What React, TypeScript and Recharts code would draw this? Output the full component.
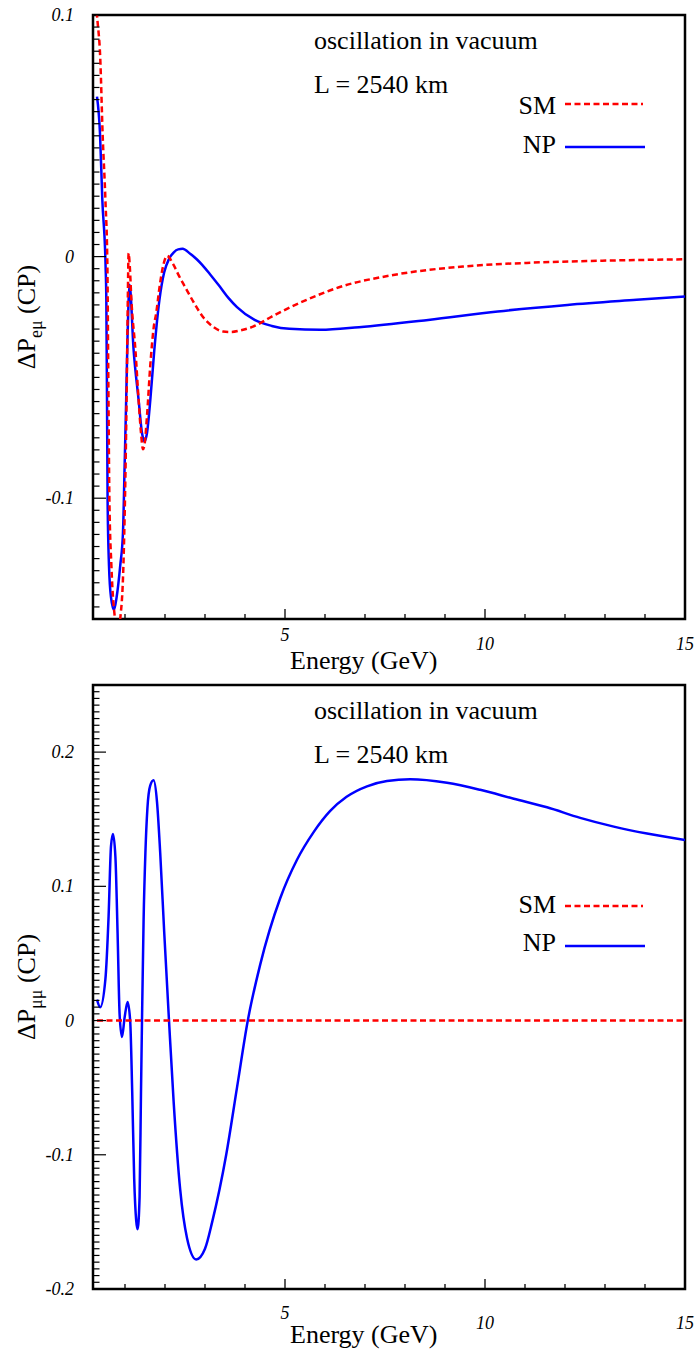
import React from "react";
import { LineChart, Line, XAxis, YAxis, ReferenceArea } from "recharts";

const FONT = '"Liberation Serif", "Times New Roman", Times, serif';

// ---- top panel: ΔP_eμ (CP) ----
const emuEnergyNP = [
  0.3, 0.375, 0.433, 0.515, 0.533, 0.55, 0.565, 0.6, 0.65, 0.725, 0.79, 0.88,
  0.95, 0.99, 1.03, 1.065, 1.09, 1.115, 1.215, 1.34, 1.425, 1.49, 1.55, 1.633,
  1.733, 1.86, 1.98, 2.1, 2.22, 2.33, 2.44, 2.63, 2.8, 2.935, 3.15, 3.37, 3.59,
  3.8, 4.24, 4.67, 5.11, 5.89, 6.85, 8.58, 10.32, 12.06, 13.79, 15.0,
];
const emuNP = [
  0.0662, 0.051, 0.0235, -0.0041, -0.0179, -0.0593, -0.1007, -0.128, -0.141,
  -0.1462, -0.141, -0.128, -0.114, -0.087, -0.059, -0.032, -0.018, -0.0117,
  -0.0386, -0.0593, -0.073, -0.0765, -0.073, -0.0593, -0.0386, -0.018, -0.0065,
  -0.001, 0.0018, 0.003, 0.0032, 0.0012, -0.0012, -0.0035, -0.0078, -0.0124,
  -0.0172, -0.0209, -0.0262, -0.0287, -0.0299, -0.0303, -0.0292, -0.0262,
  -0.0227, -0.02, -0.0179, -0.0165,
];
const emuEnergySM = [
  0.2, 0.3, 0.383, 0.44, 0.51, 0.56, 0.58, 0.61, 0.66, 0.75, 0.81, 0.88, 0.96,
  1.0, 1.04, 1.07, 1.09, 1.12, 1.16, 1.26, 1.34, 1.4, 1.45, 1.49, 1.55, 1.63,
  1.72, 1.78, 1.865, 1.95, 2.05, 2.2, 2.35, 2.5, 2.72, 2.95, 3.2, 3.45, 3.65,
  3.9, 4.2, 4.67, 5.54, 6.41, 7.71, 9.45, 11.19, 12.93, 15.0,
];
const emuSM = [
  0.125, 0.1, 0.0814, 0.051, 0.0235, -0.0041, -0.044, -0.1007, -0.128, -0.15,
  -0.156, -0.15, -0.128, -0.1, -0.059, -0.018, 0.0014, -0.0041, -0.018, -0.0386,
  -0.0593, -0.073, -0.0797, -0.0776, -0.066, -0.0455, -0.029, -0.0234, -0.0124,
  -0.0041, 0.0003, -0.003, -0.008, -0.0125, -0.019, -0.025, -0.029, -0.031,
  -0.0312, -0.0305, -0.029, -0.0248, -0.0179, -0.0124, -0.0076, -0.0041,
  -0.0025, -0.0017, -0.0011,
];

// ---- bottom panel: ΔP_μμ (CP) ----
const mumuEnergyNP = [
  0.3, 0.38, 0.51, 0.59, 0.65, 0.7, 0.76, 0.815, 0.865, 0.925, 0.99, 1.065,
  1.13, 1.18, 1.23, 1.28, 1.315, 1.365, 1.4, 1.425, 1.465, 1.51, 1.56, 1.63,
  1.715, 1.8, 1.88, 1.98, 2.1, 2.215, 2.38, 2.55, 2.78, 3.0, 3.18, 3.53, 3.8,
  4.07, 4.38, 4.88, 5.3, 5.72, 6.13, 6.54, 7.05, 7.55, 8.13, 9.05, 9.88, 10.72,
  11.55, 12.38, 13.22, 14.05, 15.0,
];
const mumuNP = [
  0.0156, 0.0099, 0.0308, 0.0778, 0.13, 0.139, 0.122, 0.0647, 0.0047, -0.0123,
  0.0022, 0.0138, -0.0005, -0.0528, -0.118, -0.149, -0.1554, -0.131, -0.0528, 0,
  0.075, 0.125, 0.158, 0.175, 0.179, 0.163, 0.125, 0.066, 0, -0.06, -0.126,
  -0.162, -0.178, -0.17, -0.15, -0.1, -0.05, 0, 0.0417, 0.0911, 0.1198, 0.1406,
  0.1562, 0.1667, 0.1745, 0.1784, 0.1797, 0.1771, 0.1719, 0.1653, 0.1589, 0.151,
  0.1445, 0.1393, 0.1345,
];
const mumuEnergySM = [0.3, 15.0];
const mumuSM = [0, 0];

// ---- ticks ----
const xMajorTicks = [5, 10, 15];
const xTickLabels = ["5", "10", "15"];
const emuMajorTicks = [-0.1, 0, 0.1];
const emuTickLabels = ["-0.1", "0", "0.1"];
const mumuMajorTicks = [-0.2, -0.1, 0, 0.1, 0.2];
const mumuTickLabels = ["-0.2", "-0.1", "0", "0.1", "0.2"];

const steps = (from: number, to: number, step: number) => {
  const n = Math.round((to - from) / step);
  const out: number[] = [];
  for (let i = 0; i <= n; i++) out.push(Math.round((from + i * step) * 10000) / 10000);
  return out;
};

const toPoints = (xs: number[], ys: number[]) => xs.map((x, i) => ({ x, y: ys[i] }));

const idx = (arr: number[], v: number) => arr.findIndex((a) => Math.abs(a - v) < 1e-9);

interface PanelProps {
  chartTop: number; // page y of the svg top
  height: number;
  plotTop: number; // page y of the frame top
  npX: number[];
  npY: number[];
  smX: number[];
  smY: number[];
  yDomain: [number, number];
  yMajor: number[];
  yLabels: string[];
  sub: string;
  // all in page coordinates
  oscY: number;
  lenY: number;
  smTextY: number;
  smLineY: number;
  npTextY: number;
  npLineY: number;
  fiveY: number;
  tickY: number;
  titleY: number;
}

function Panel(p: PanelProps) {
  const xTicks = steps(1, 15, 1);
  const yTicks = steps(p.yDomain[0], p.yDomain[1], 0.005);
  const o = p.chartTop;
  const plotBottom = p.plotTop + 604;
  const midY = p.plotTop + 302 - o;

  const renderXTick = (props: any) => {
    const { x, y, payload } = props;
    const i = idx(xMajorTicks, payload.value);
    const major = i >= 0;
    return (
      <g>
        <line x1={x} x2={x} y1={y} y2={y - (major ? 10 : 5)} stroke="#000" strokeWidth={1.3} />
        {major && (
          <text
            x={x}
            y={y + (payload.value === 5 ? p.fiveY : p.tickY) - plotBottom}
            textAnchor="middle"
            fontFamily={FONT}
            fontStyle="italic"
            fontSize={18}
            fill="#000"
          >
            {xTickLabels[i]}
          </text>
        )}
      </g>
    );
  };

  const renderYTick = (props: any) => {
    const { x, y, payload } = props;
    const i = idx(p.yMajor, payload.value);
    const major = i >= 0;
    return (
      <g>
        <line x1={x} x2={x + (major ? 13 : 6.5)} y1={y} y2={y} stroke="#000" strokeWidth={1.2} />
        {major && (
          <text
            x={x - 19}
            y={y + 6}
            textAnchor="end"
            fontFamily={FONT}
            fontStyle="italic"
            fontSize={18}
            fill="#000"
          >
            {p.yLabels[i]}
          </text>
        )}
      </g>
    );
  };

  return (
    <LineChart
      width={699}
      height={p.height}
      margin={{ top: p.plotTop - o, right: 14, bottom: 0, left: 0 }}
    >
      <XAxis
        type="number"
        dataKey="x"
        domain={[0.2, 15]}
        allowDataOverflow
        ticks={xTicks}
        interval={0}
        tickSize={0}
        tickMargin={0}
        tickLine={false}
        axisLine={false}
        height={o + p.height - plotBottom}
        tick={renderXTick}
      />
      <YAxis
        type="number"
        dataKey="y"
        domain={p.yDomain}
        allowDataOverflow
        ticks={yTicks}
        interval={0}
        tickSize={0}
        tickMargin={0}
        tickLine={false}
        axisLine={false}
        width={93}
        tick={renderYTick}
      />
      <Line
        data={toPoints(p.npX, p.npY)}
        dataKey="y"
        type="monotone"
        stroke="#0000ff"
        strokeWidth={2.5}
        dot={false}
        isAnimationActive={false}
      />
      <Line
        data={toPoints(p.smX, p.smY)}
        dataKey="y"
        type="monotone"
        stroke="#ff0000"
        strokeWidth={2.5}
        strokeDasharray="6 3.5"
        dot={false}
        isAnimationActive={false}
      />
      <ReferenceArea
        x1={0.2}
        x2={15}
        y1={p.yDomain[0]}
        y2={p.yDomain[1]}
        fill="none"
        fillOpacity={0}
        stroke="#000"
        strokeWidth={2.5}
        ifOverflow="visible"
      />

      <g fontFamily={FONT} fontSize={26} fill="#000">
        <text x={314} y={p.oscY - o}>oscillation in vacuum</text>
        <text x={314} y={p.lenY - o}>L = 2540 km</text>
        <text x={556} y={p.smTextY - o} textAnchor="end">SM</text>
        <text x={556} y={p.npTextY - o} textAnchor="end">NP</text>
        <text x={290} y={p.titleY - o}>Energy (GeV)</text>
        <text x={35} y={midY} textAnchor="middle" transform={`rotate(-90 35 ${midY})`}>
          ΔP
          <tspan fontSize={18} dy={7}>{p.sub}</tspan>
          <tspan dy={-7}> (CP)</tspan>
        </text>
      </g>
      <line
        x1={565}
        x2={643}
        y1={p.smLineY - o}
        y2={p.smLineY - o}
        stroke="#ff0000"
        strokeWidth={2.5}
        strokeDasharray="6 3.5"
      />
      <line x1={565} x2={645} y1={p.npLineY - o} y2={p.npLineY - o} stroke="#0000ff" strokeWidth={2.5} />
    </LineChart>
  );
}

export default function App() {
  return (
    <div style={{ position: "absolute", left: 0, top: 0, width: 699, height: 1351, background: "#fff" }}>
      <div style={{ position: "absolute", left: 0, top: 0 }}>
        <Panel
          chartTop={0}
          height={680}
          plotTop={15}
          npX={emuEnergyNP}
          npY={emuNP}
          smX={emuEnergySM}
          smY={emuSM}
          yDomain={[-0.15, 0.1]}
          yMajor={emuMajorTicks}
          yLabels={emuTickLabels}
          sub="eμ"
          oscY={49}
          lenY={92.5}
          smTextY={114}
          smLineY={104}
          npTextY={153}
          npLineY={147}
          fiveY={641}
          tickY={650}
          titleY={669}
        />
      </div>
      <div style={{ position: "absolute", left: 0, top: 680 }}>
        <Panel
          chartTop={680}
          height={671}
          plotTop={685}
          npX={mumuEnergyNP}
          npY={mumuNP}
          smX={mumuEnergySM}
          smY={mumuSM}
          yDomain={[-0.2, 0.25]}
          yMajor={mumuMajorTicks}
          yLabels={mumuTickLabels}
          sub="μμ"
          oscY={719}
          lenY={762.5}
          smTextY={913}
          smLineY={906}
          npTextY={951}
          npLineY={946}
          fiveY={1319}
          tickY={1329}
          titleY={1343}
        />
      </div>
    </div>
  );
}
